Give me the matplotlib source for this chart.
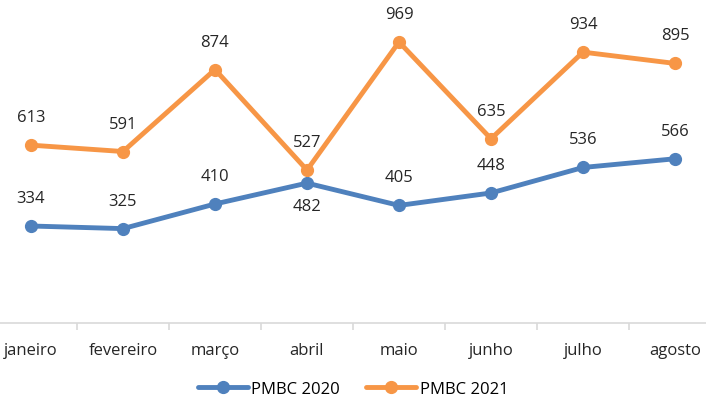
import matplotlib
matplotlib.use('Agg')
import matplotlib.pyplot as plt

months = ['janeiro', 'fevereiro', 'março', 'abril', 'maio', 'junho', 'julho', 'agosto']
pmbc_2020 = [334, 325, 410, 482, 405, 448, 536, 566]
pmbc_2021 = [613, 591, 874, 527, 969, 635, 934, 895]

plt.rcParams['font.family'] = ['Open Sans', 'DejaVu Sans']

W, H = 706, 402
fig = plt.figure(figsize=(W / 100, H / 100), dpi=100)
# plot area is slightly wider than the picture (cropped source)
left_px, right_px = -15, 721
bottom_px, top_px = 323.8, 323.8 - 1000 * 0.2898
ax = fig.add_axes([left_px / W, 1 - bottom_px / H, (right_px - left_px) / W, (bottom_px - top_px) / H])

x = list(range(len(months)))
blue = '#4F81BD'
orange = '#F79646'
ax.plot(x, pmbc_2020, color=blue, lw=3.5, marker='o', ms=8.5, label='PMBC 2020', solid_capstyle='round')
ax.plot(x, pmbc_2021, color=orange, lw=3.5, marker='o', ms=8.5, label='PMBC 2021', solid_capstyle='round')

fs = 12
for i, v in enumerate(pmbc_2020):
    off = -23 if months[i] == 'abril' else 28
    ax.annotate(str(v), (i, v), xytext=(0, off), textcoords='offset pixels',
                ha='center', va='center', fontsize=fs, color='#262626')
for i, v in enumerate(pmbc_2021):
    ax.annotate(str(v), (i, v), xytext=(0, 28), textcoords='offset pixels',
                ha='center', va='center', fontsize=fs, color='#262626')

ax.set_xlim(-0.5, len(months) - 0.5)
ax.set_ylim(0, 1000)
ax.set_yticks([])
ax.set_xticks(x)
ax.set_xticklabels(months, fontsize=fs, color='#262626')
ax.set_xticks([i + 0.5 for i in range(len(months) - 1)], minor=True)
ax.tick_params(axis='x', which='major', length=0, pad=14)
ax.tick_params(axis='x', which='minor', length=5, color='#D9D9D9', width=1.2)
for s in ['top', 'left', 'right']:
    ax.spines[s].set_visible(False)
ax.spines['bottom'].set_color('#D9D9D9')
ax.spines['bottom'].set_linewidth(1.2)

fig.legend(loc='center', bbox_to_anchor=(0.5, 1 - 390 / H), ncol=2, frameon=False,
           fontsize=fs, handlelength=3.0, columnspacing=1.6, handletextpad=0.2)

fig.savefig('out.png', dpi=100)
